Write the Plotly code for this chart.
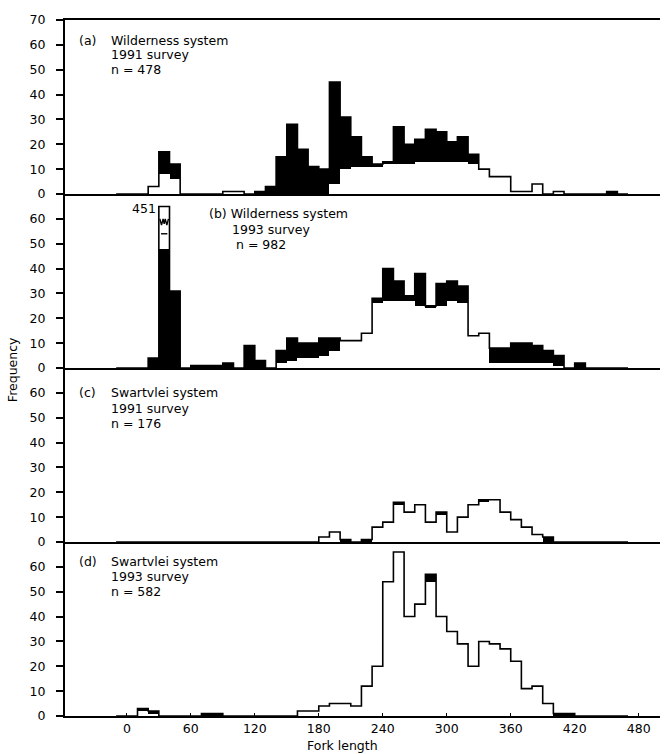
import plotly.graph_objects as go
from plotly.subplots import make_subplots

# ---------------- data ----------------
BIN_WIDTH = 10
bin_starts = list(range(-10, 470, 10))  # 48 bins of fork length (mm)

# (a) Wilderness system, 1991 survey
a_light = [0, 0, 0, 3, 8, 6, 0, 0, 0, 0,
           1, 1, 0, 0, 0, 0, 0, 0, 0, 0,
           4, 10, 11, 11, 11, 12, 12, 12, 13, 13,
           13, 13, 13, 12, 10, 7, 7, 1, 1, 4,
           0, 1, 0, 0, 0, 0, 0, 0]
a_dark = [0, 0, 0, 0, 9, 6, 0, 0, 0, 0,
          0, 0, 0, 1, 3, 15, 28, 18, 11, 10,
          41, 21, 12, 4, 1, 1, 15, 8, 9, 13,
          12, 8, 10, 4, 0, 0, 0, 0, 0, 0,
          0, 0, 0, 0, 0, 0, 1, 0]

# (b) Wilderness system, 1993 survey
b_light = [0, 0, 0, 0, 0, 0, 0, 0, 0, 0,
           0, 0, 0, 0, 0, 2, 3, 4, 4, 5,
           7, 11, 11, 14, 26, 27, 27, 27, 25, 24,
           25, 27, 26, 13, 14, 2, 2, 2, 2, 2,
           2, 1, 0, 0, 0, 0, 0, 0]
b_dark = [0, 0, 0, 4, 451, 31, 0, 1, 1, 1,
          2, 0, 9, 3, 0, 5, 9, 6, 6, 7,
          5, 0, 0, 0, 2, 13, 8, 2, 13, 1,
          9, 8, 7, 0, 0, 6, 6, 8, 8, 7,
          5, 4, 0, 2, 0, 0, 0, 0]

# (c) Swartvlei system, 1991 survey
c_light = [0, 0, 0, 0, 0, 0, 0, 0, 0, 0,
           0, 0, 0, 0, 0, 0, 0, 0, 0, 2,
           4, 0, 0, 0, 6, 8, 15, 12, 15, 8,
           11, 4, 10, 15, 16, 17, 12, 9, 6, 3,
           0, 0, 0, 0, 0, 0, 0, 0]
c_dark = [0, 0, 0, 0, 0, 0, 0, 0, 0, 0,
          0, 0, 0, 0, 0, 0, 0, 0, 0, 0,
          0, 1, 0, 1, 0, 0, 1, 0, 0, 0,
          1, 0, 0, 0, 1, 0, 0, 0, 0, 0,
          2, 0, 0, 0, 0, 0, 0, 0]

# (d) Swartvlei system, 1993 survey
d_light = [0, 0, 2, 1, 0, 0, 0, 0, 0, 0,
           0, 0, 0, 0, 0, 0, 0, 2, 2, 4,
           5, 5, 4, 12, 20, 54, 66, 40, 45, 54,
           40, 34, 29, 20, 30, 29, 27, 22, 11, 12,
           5, 0, 0, 0, 0, 0, 0, 0]
d_dark = [0, 0, 1, 1, 0, 0, 0, 0, 1, 1,
          0, 0, 0, 0, 0, 0, 0, 0, 0, 0,
          0, 0, 0, 0, 0, 0, 0, 0, 0, 3,
          0, 0, 0, 0, 0, 0, 0, 0, 0, 0,
          0, 1, 1, 0, 0, 0, 0, 0]

panel_tags = ["(a)", "", "(c)", "(d)"]
panel_systems = ["Wilderness system", "(b) Wilderness system", "Swartvlei system", "Swartvlei system"]
panel_surveys = ["1991 survey", "1993 survey", "1991 survey", "1993 survey"]
panel_counts = ["n = 478", "n = 982", "n = 176", "n = 582"]

x_ticks = [0, 60, 120, 180, 240, 300, 360, 420, 480]
y_ticks_top = [0, 10, 20, 30, 40, 50, 60, 70]
y_ticks_other = [0, 10, 20, 30, 40, 50, 60]

# ---------------- layout constants ----------------
FONT = "DejaVu Sans"
FSIZE = 12.5
X_RANGE = [-58, 500]
Y_RANGE = [0, 70]
CAP = 65          # off-scale bars are cut here
BREAK_FILL = 48   # dark fill of a broken bar stops here

lights = [a_light, b_light, c_light, d_light]
darks = [a_dark, b_dark, c_dark, d_dark]

fig = make_subplots(rows=4, cols=1, shared_xaxes=True, vertical_spacing=0)

edges = bin_starts + [bin_starts[-1] + BIN_WIDTH]
centers = [b + BIN_WIDTH / 2 for b in bin_starts]

for i in range(4):
    row = i + 1
    sfx = "" if row == 1 else str(row)
    light = lights[i]
    dark = darks[i]
    total = [l + d for l, d in zip(light, dark)]
    off_scale = [t > Y_RANGE[1] for t in total]
    shown_total = [CAP if o else t for t, o in zip(total, off_scale)]
    dark_top = [min(t, BREAK_FILL) if o else t for t, o in zip(total, off_scale)]
    dark_h = [max(t - l, 0) for t, l in zip(dark_top, light)]

    fig.add_trace(go.Bar(x=centers, y=dark_h, base=light, width=BIN_WIDTH,
                         marker=dict(color="black", line=dict(width=0)),
                         showlegend=False), row=row, col=1)
    # histogram outline (step)
    sx = [edges[0]] + edges
    sy = [0] + shown_total + [shown_total[-1]]
    fig.add_trace(go.Scatter(x=sx, y=sy, mode="lines", line_shape="hv",
                             line=dict(color="black", width=1.6),
                             showlegend=False, hoverinfo="skip"), row=row, col=1)
    # broken (off-scale) bars
    for c, t, o in zip(centers, total, off_scale):
        if o:
            zx = [c - 4, c - 2.5, c - 1, c, c + 1, c + 2.5, c + 4]
            zy = [60, 57.5, 60, 58, 60, 57.5, 60]
            fig.add_trace(go.Scatter(x=zx, y=zy, mode="lines",
                                     line=dict(color="black", width=1.4),
                                     showlegend=False, hoverinfo="skip"), row=row, col=1)
            fig.add_trace(go.Scatter(x=[c - 3, c + 3], y=[54, 54], mode="lines",
                                     line=dict(color="black", width=1.4),
                                     showlegend=False, hoverinfo="skip"), row=row, col=1)
            fig.add_annotation(x=c - BIN_WIDTH / 2 - 1, y=CAP - 1, text=str(t),
                               xref="x" + sfx, yref="y" + sfx,
                               xanchor="right", yanchor="middle", showarrow=False,
                               font=dict(family=FONT, size=FSIZE, color="black"))

# panel labels
label_pos = [
    dict(tag=(-46, 61.8), sys=(-16, 61.8), surv=(-16, 56.0), n=(-16, 50.2)),
    dict(tag=None, sys=(76, 62), surv=(98, 55.6), n=(101, 49.6)),
    dict(tag=(-46, 60), sys=(-16, 60), surv=(-16, 53.8), n=(-16, 47.8)),
    dict(tag=(-46, 62), sys=(-16, 62), surv=(-16, 56), n=(-16, 50)),
]
for i in range(4):
    row = i + 1
    sfx = "" if row == 1 else str(row)
    p = label_pos[i]
    items = []
    if panel_tags[i]:
        items.append((p["tag"], panel_tags[i]))
    items += [(p["sys"], panel_systems[i]), (p["surv"], panel_surveys[i]), (p["n"], panel_counts[i])]
    for (xx, yy), txt in items:
        fig.add_annotation(x=xx, y=yy, text=txt, xref="x" + sfx, yref="y" + sfx,
                           xanchor="left", yanchor="middle", showarrow=False,
                           borderpad=0,
                           font=dict(family=FONT, size=FSIZE, color="black"))

# axis titles
fig.add_annotation(x=-0.089, y=0.497, xref="paper", yref="paper", text="Frequency",
                   textangle=-90, showarrow=False, xanchor="center", yanchor="middle",
                   font=dict(family=FONT, size=FSIZE, color="black"))
fig.add_annotation(x=0.466, y=-0.042, xref="paper", yref="paper", text="Fork length",
                   showarrow=False, xanchor="center", yanchor="middle",
                   font=dict(family=FONT, size=FSIZE, color="black"))

for row in range(1, 5):
    fig.update_yaxes(range=Y_RANGE, tickvals=y_ticks_top if row == 1 else y_ticks_other,
                     showline=True, linecolor="black", linewidth=2,
                     ticks="outside", ticklen=7, tickwidth=2, tickcolor="black",
                     ticklabelstandoff=8,
                     showgrid=False, zeroline=False,
                     tickfont=dict(family=FONT, size=FSIZE, color="black"),
                     row=row, col=1)
    fig.update_xaxes(range=X_RANGE, showline=True, linecolor="black", linewidth=1.5,
                     showgrid=False, zeroline=False, mirror=(row == 1),
                     tickvals=x_ticks, showticklabels=(row == 4),
                     ticks="inside" if row == 4 else "", ticklen=3, tickwidth=1, tickcolor="black",
                     tickfont=dict(family=FONT, size=FSIZE, color="black"),
                     row=row, col=1)

fig.update_layout(width=665, height=754, margin=dict(l=65, r=5, t=20, b=38),
                  plot_bgcolor="white", paper_bgcolor="white", barmode="overlay",
                  bargap=0, showlegend=False)

fig.write_html("out.html")
